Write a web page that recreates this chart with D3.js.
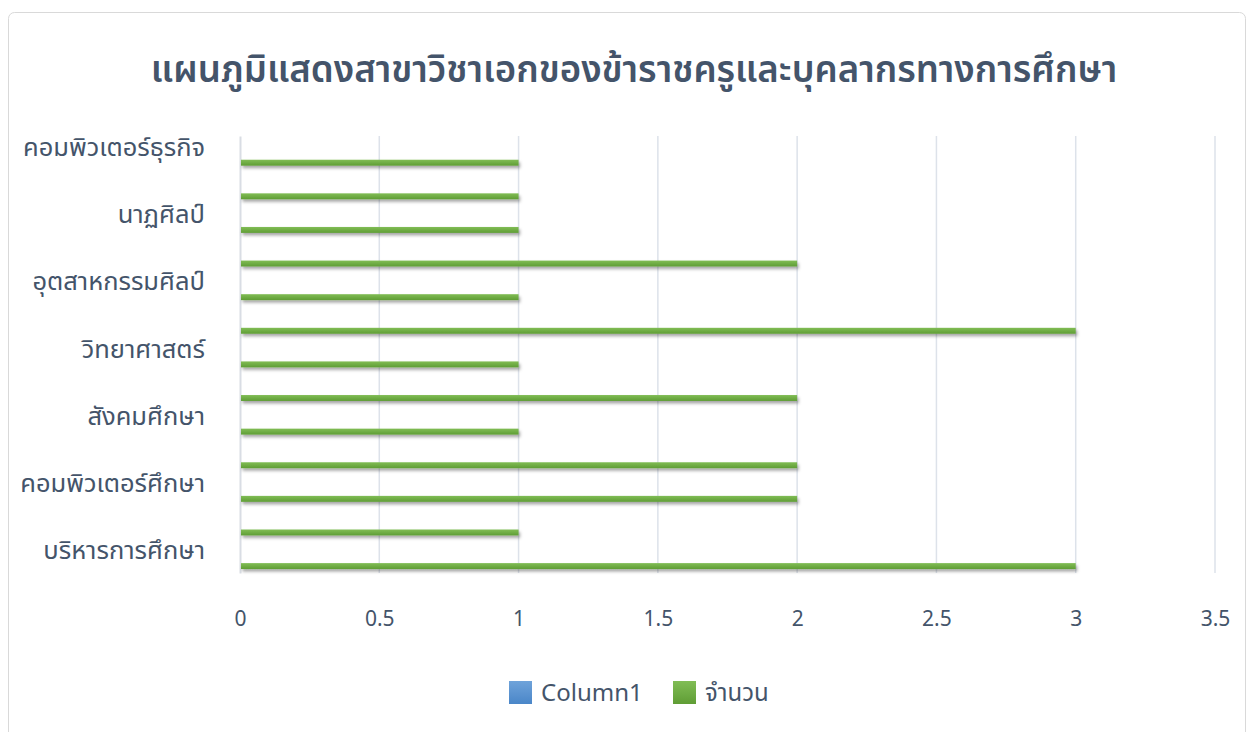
<!DOCTYPE html>
<html>
<head>
<meta charset="utf-8">
<script src="https://cdn.jsdelivr.net/npm/d3@7"></script>
<style>
  body { margin: 0; background: #fff; }
  svg text { font-family: "Noto Sans Thai", "Noto Sans", "DejaVu Sans", sans-serif; fill: #44546a; }
</style>
</head>
<body>
<svg id="chart"></svg>
<script>
// category labels, bottom to top (Excel only shows every other one)
const categoryLabels = ["บริหารการศึกษา", null, "คอมพิวเตอร์ศึกษา", null, "สังคมศึกษา", null,
    "วิทยาศาสตร์", null, "อุตสาหกรรมศิลป์", null, "นาฏศิลป์", null, "คอมพิวเตอร์ธุรกิจ"];
const seriesNames = ["Column1", "จำนวน"];
const column1Values = [null, null, null, null, null, null, null, null, null, null, null, null, null];
const countValues = [3, 1, 2, 2, 1, 2, 1, 3, 1, 2, 1, 1, 1];
const xTicks = [0, 0.5, 1, 1.5, 2, 2.5, 3, 3.5];
const title = "แผนภูมิแสดงสาขาวิชาเอกของข้าราชครูและบุคลากรทางการศึกษา";

const width = 1253, height = 732;
const svg = d3.select("#chart").attr("width", width).attr("height", height);

const defs = svg.append("defs");
const grad = defs.append("linearGradient").attr("id", "greenGrad")
    .attr("x1", 0).attr("y1", 0).attr("x2", 0).attr("y2", 1);
grad.append("stop").attr("offset", "0%").attr("stop-color", "#81bd55");
grad.append("stop").attr("offset", "100%").attr("stop-color", "#5f9d35");
const grad2 = defs.append("linearGradient").attr("id", "blueGrad")
    .attr("x1", 0).attr("y1", 0).attr("x2", 0).attr("y2", 1);
grad2.append("stop").attr("offset", "0%").attr("stop-color", "#6fa3da");
grad2.append("stop").attr("offset", "100%").attr("stop-color", "#4a86c8");
const shadow = defs.append("filter").attr("id", "shadow")
    .attr("x", "-5%").attr("y", "-50%").attr("width", "110%").attr("height", "250%");
shadow.append("feDropShadow").attr("dx", 1.5).attr("dy", 2.5).attr("stdDeviation", 1.6)
    .attr("flood-color", "#000").attr("flood-opacity", 0.35);

// chart frame
svg.append("rect")
    .attr("x", 8.5).attr("y", 12.5).attr("width", 1237).attr("height", 740)
    .attr("rx", 6)
    .attr("fill", "#fff").attr("stroke", "#d9d9d9");

svg.append("text")
    .attr("x", 634).attr("y", 82)
    .attr("text-anchor", "middle")
    .style("font-size", "36.6px").style("font-weight", "600")
    .text(title);

const margin = { left: 240, right: 38, top: 136, bottom: 159 };
const plotH = height - margin.top - margin.bottom;

const x = d3.scaleLinear().domain([0, 3.5]).range([margin.left, margin.left + 975]);
const y = d3.scaleBand().domain(d3.range(categoryLabels.length))
    .range([margin.top + plotH, margin.top]).padding(0);
// series inside each category: Column1 upper slot, จำนวน lower slot
const ySub = d3.scaleBand().domain(seriesNames).range([0, y.bandwidth()])
    .paddingInner(0.7).paddingOuter(0.2);

// gridlines
svg.append("g")
    .selectAll("line")
    .data(xTicks.filter(d => d > 0))
    .join("line")
    .attr("x1", d => x(d)).attr("x2", d => x(d))
    .attr("y1", margin.top).attr("y2", margin.top + plotH)
    .attr("stroke", "#dde2ea").attr("stroke-width", 1.5);

// x axis labels
const xAxis = svg.append("g")
    .attr("transform", `translate(0,${margin.top + plotH})`)
    .call(d3.axisBottom(x).tickValues(xTicks).tickSize(0).tickPadding(38).tickFormat(d3.format("")));
xAxis.select(".domain").remove();
xAxis.selectAll("text").style("font-size", "21px").attr("fill", "#5a6677");

// category axis
const yAxis = svg.append("g")
    .attr("transform", `translate(${margin.left},0)`)
    .call(d3.axisLeft(y).tickSize(0).tickPadding(35)
        .tickFormat(i => categoryLabels[i] || ""));
yAxis.select(".domain").attr("stroke", "#d9dde4").attr("stroke-width", 2);
yAxis.selectAll(".tick text").style("font-size", "25.5px").attr("fill", "#44546a").attr("dy", "0.12em");

const rows = categoryLabels.map((c, i) => ({ i, column1: column1Values[i], count: countValues[i] }));

// Column1 series (empty)
svg.append("g").selectAll("rect")
    .data(rows.filter(d => d.column1 != null))
    .join("rect")
    .attr("x", x(0))
    .attr("y", d => y(d.i) + ySub("Column1"))
    .attr("width", d => x(d.column1) - x(0))
    .attr("height", ySub.bandwidth())
    .attr("fill", "url(#blueGrad)");

// จำนวน series
svg.append("g").selectAll("rect")
    .data(rows)
    .join("rect")
    .attr("x", x(0) + 1)
    .attr("y", d => y(d.i) + ySub("จำนวน"))
    .attr("width", d => x(d.count) - x(0) - 1)
    .attr("height", ySub.bandwidth())
    .attr("fill", "url(#greenGrad)")
    .attr("filter", "url(#shadow)");

// legend
const legend = svg.append("g").attr("transform", "translate(509,681)");
const legendItems = [
    { name: seriesNames[0], fill: "url(#blueGrad)", dx: 0 },
    { name: seriesNames[1], fill: "url(#greenGrad)", dx: 164 }
];
legendItems.forEach(item => {
    const g = legend.append("g").attr("transform", `translate(${item.dx},0)`);
    g.append("rect").attr("width", 23).attr("height", 23).attr("fill", item.fill);
    g.append("text").attr("x", 32).attr("y", 20)
        .style("font-size", "24px").attr("fill", "#44546a").text(item.name);
});
</script>
</body>
</html>
